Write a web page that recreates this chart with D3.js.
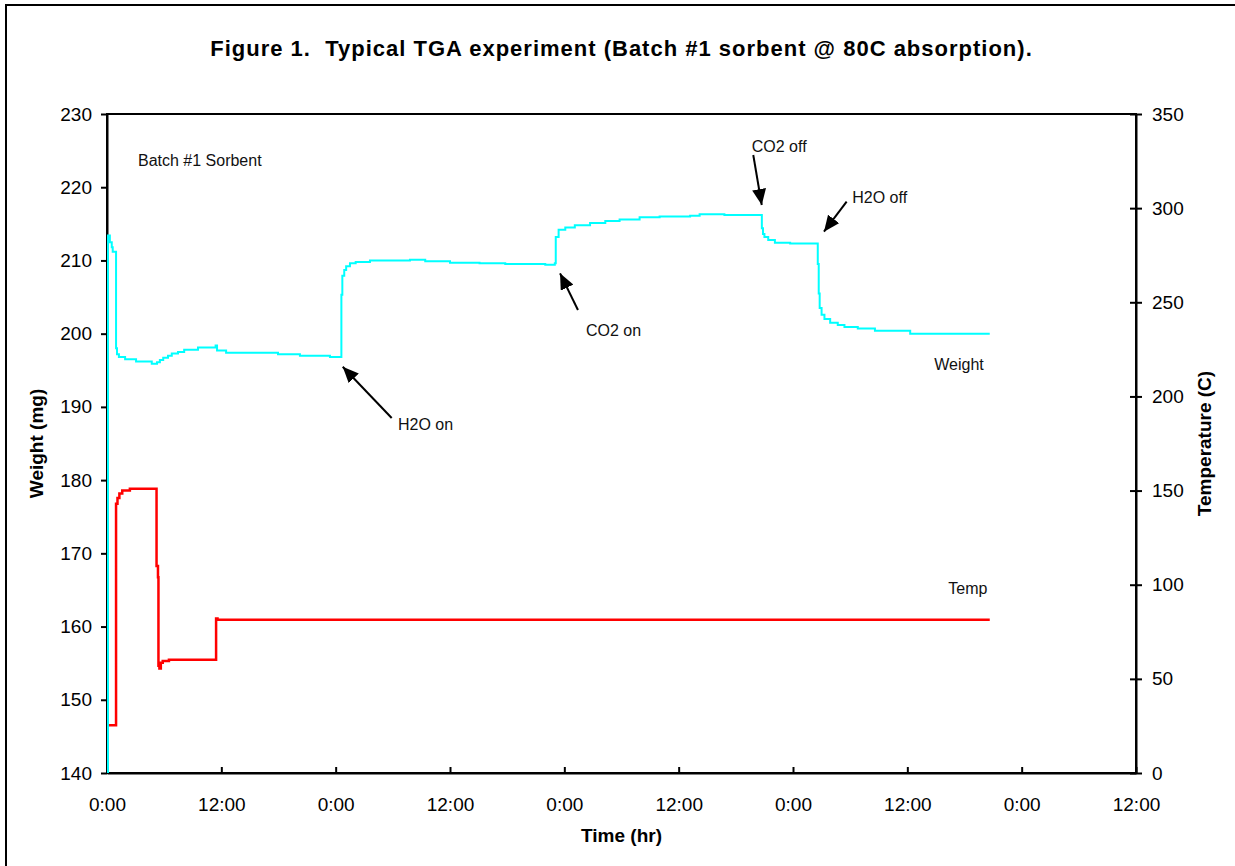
<!DOCTYPE html>
<html>
<head>
<meta charset="utf-8">
<script src="https://cdn.jsdelivr.net/npm/d3@7"></script>
<style>
  body { margin: 0; background: #fff; }
  svg { display: block; font-family: Arial, "Liberation Sans", sans-serif; }
</style>
</head>
<body>
<div id="chart"></div>
<script>
const WIDTH = 1235, HEIGHT = 866;
const MARGIN = { top: 114, right: 99, bottom: 93, left: 107 };

// weight trace (hours, mg)
const weightTime = [0, 0.08, 0.1, 0.3, 0.5, 0.6, 0.95, 1.05, 1.25, 1.9, 3.05, 4.7, 5.25, 5.55, 5.9, 6.4, 6.8, 7.45, 8.1, 9.55, 11.4, 11.55, 12.5, 17.95, 20.25, 23.4,
  24.6, 24.7, 24.9, 25.1, 25.5, 26.1, 27.6, 31.8, 33.4, 36.0, 39.1, 41.8, 46.0, 47.0, 47.1, 47.4, 48.1, 49.1, 50.7, 52.3, 53.8, 55.9, 58.0, 61.2, 62.2, 64.8,
  68.73, 68.85, 69.0, 69.4, 70.1, 71.7, 74.6, 74.7, 74.8, 75.0, 75.3, 75.9, 76.7, 77.4, 78.8, 80.6, 84.3, 88.5, 92.65];
const weightMg = [140, 140, 213.4, 212.5, 211.8, 211.2, 198.0, 197.2, 196.8, 196.5, 196.2, 195.9, 196.1, 196.4, 196.7, 197.0, 197.3, 197.5, 197.8, 198.1, 198.4, 197.7, 197.4, 197.2, 197.0, 196.8,
  205.3, 207.9, 208.7, 209.2, 209.6, 209.8, 210.0, 210.1, 209.9, 209.7, 209.6, 209.5, 209.4, 209.6, 213.2, 214.2, 214.5, 214.8, 215.1, 215.4, 215.6, 215.9, 216.0, 216.1, 216.3, 216.2,
  214.4, 213.6, 213.2, 212.8, 212.4, 212.3, 209.5, 205.5, 203.5, 202.6, 202.0, 201.5, 201.2, 200.9, 200.7, 200.4, 200.0, 200.0, 200.0];

// temperature trace (hours, C)
const tempTime = [0, 0.95, 1.1, 1.3, 1.6, 2.4, 5.2, 5.35, 5.4, 5.5, 5.65, 5.85, 6.5, 11.45, 11.6, 92.65];
const tempC = [25.3, 143, 146, 148.5, 150, 151, 110, 104, 57, 55.5, 58.5, 59.5, 60.2, 82, 81.4, 81.4];

const timeTicks = [0, 12, 24, 36, 48, 60, 72, 84, 96, 108];
const weightTicks = [140, 150, 160, 170, 180, 190, 200, 210, 220, 230];
const tempTicks = [0, 50, 100, 150, 200, 250, 300, 350];

// notes in data units (hours, mg)
const noteLabels = ["Batch #1 Sorbent", "H2O on", "CO2 on", "CO2 off", "H2O off", "Weight", "Temp"];
const noteTime = [3.25, 30.54, 50.27, 67.67, 78.22, 86.83, 88.3];
const noteMg = [222.9, 186.84, 199.72, 224.85, 217.8, 195.04, 164.4];

// arrows: tail -> tip (hours, mg)
const arrowFromTime = [29.88, 49.43, 67.83, 77.63];
const arrowFromMg = [188.48, 203.23, 224.40, 218.02];
const arrowToTime = [24.74, 47.55, 68.72, 75.25];
const arrowToMg = [195.49, 208.24, 217.57, 213.93];

const svg = d3.select("#chart").append("svg")
  .attr("width", WIDTH)
  .attr("height", HEIGHT);

const chartWidth = WIDTH - MARGIN.left - MARGIN.right;
const chartHeight = HEIGHT - MARGIN.top - MARGIN.bottom;

// outer figure border
svg.append("rect")
  .attr("x", 6).attr("y", 5)
  .attr("width", WIDTH + 20).attr("height", HEIGHT + 20)
  .attr("fill", "none").attr("stroke", "#000").attr("stroke-width", 2);

svg.append("text")
  .attr("x", MARGIN.left + chartWidth / 2)
  .attr("y", 56)
  .attr("text-anchor", "middle")
  .attr("font-weight", "bold")
  .attr("font-size", 22)
  .attr("letter-spacing", 1)
  .style("white-space", "pre")
  .text("Figure 1.  Typical TGA experiment (Batch #1 sorbent @ 80C absorption).");

const g = svg.append("g")
  .attr("transform", `translate(${MARGIN.left},${MARGIN.top})`);

const x = d3.scaleLinear().domain([0, 108]).range([0, chartWidth]);
const yW = d3.scaleLinear().domain([140, 230]).range([chartHeight, 0]);
const yT = d3.scaleLinear().domain([0, 350]).range([chartHeight, 0]);

g.append("defs").append("clipPath").attr("id", "plot-clip")
  .append("rect").attr("width", chartWidth).attr("height", chartHeight);

const fmtTime = h => `${h % 24}:00`;

const xAxis = g.append("g")
  .attr("transform", `translate(0,${chartHeight})`)
  .call(d3.axisBottom(x).tickValues(timeTicks).tickFormat(fmtTime).tickSizeInner(-6).tickSizeOuter(0).tickPadding(25));

const leftAxis = g.append("g")
  .call(d3.axisLeft(yW).tickValues(weightTicks).tickSizeInner(6).tickSizeOuter(0).tickPadding(9));

const rightAxis = g.append("g")
  .attr("transform", `translate(${chartWidth},0)`)
  .call(d3.axisRight(yT).tickValues(tempTicks).tickSizeInner(6).tickSizeOuter(0).tickPadding(10));
rightAxis.selectAll(".tick line").attr("x1", -6);

[xAxis, leftAxis, rightAxis].forEach(a => {
  a.selectAll("path, line").attr("stroke", "#000").attr("stroke-width", 2);
  a.selectAll("text").attr("font-size", 19).attr("fill", "#000").attr("font-family", null);
});

// plot frame
g.append("rect")
  .attr("width", chartWidth).attr("height", chartHeight)
  .attr("fill", "none").attr("stroke", "#000").attr("stroke-width", 2);

const weightData = weightTime.map((t, i) => ({ t, v: weightMg[i] }));
const tempData = tempTime.map((t, i) => ({ t, v: tempC[i] }));

const lines = g.append("g").attr("clip-path", "url(#plot-clip)");

lines.append("path")
  .datum(tempData)
  .attr("fill", "none").attr("stroke", "#ff0000").attr("stroke-width", 2.5)
  .attr("d", d3.line().x(d => x(d.t)).y(d => yT(d.v)).curve(d3.curveStepAfter));

lines.append("path")
  .datum(weightData)
  .attr("fill", "none").attr("stroke", "#00ffff").attr("stroke-width", 2)
  .attr("d", d3.line().x(d => x(d.t)).y(d => yW(d.v)).curve(d3.curveStepAfter));

// arrows
svg.select("defs").append("marker")
  .attr("id", "arrowhead")
  .attr("markerUnits", "userSpaceOnUse")
  .attr("viewBox", "0 0 16 14")
  .attr("refX", 16).attr("refY", 7)
  .attr("markerWidth", 16).attr("markerHeight", 14)
  .attr("orient", "auto")
  .append("path").attr("d", "M0,0 L16,7 L0,14 Z").attr("fill", "#000");

arrowFromTime.forEach((t, i) => {
  g.append("line")
    .attr("x1", x(t)).attr("y1", yW(arrowFromMg[i]))
    .attr("x2", x(arrowToTime[i])).attr("y2", yW(arrowToMg[i]))
    .attr("stroke", "#000").attr("stroke-width", 2)
    .attr("marker-end", "url(#arrowhead)");
});

noteLabels.forEach((label, i) => {
  g.append("text")
    .attr("x", x(noteTime[i])).attr("y", yW(noteMg[i]))
    .attr("font-size", 16).attr("fill", "#111")
    .text(label);
});

// axis titles
g.append("text")
  .attr("x", chartWidth / 2).attr("y", 842 - MARGIN.top)
  .attr("text-anchor", "middle").attr("font-weight", "bold").attr("font-size", 19)
  .text("Time (hr)");

g.append("text")
  .attr("transform", `translate(${43 - MARGIN.left},${chartHeight / 2}) rotate(-90)`)
  .attr("text-anchor", "middle").attr("font-weight", "bold").attr("font-size", 19)
  .text("Weight (mg)");

g.append("text")
  .attr("transform", `translate(${1211 - MARGIN.left},${chartHeight / 2}) rotate(-90)`)
  .attr("text-anchor", "middle").attr("font-weight", "bold").attr("font-size", 19)
  .text("Temperature (C)");
</script>
</body>
</html>
